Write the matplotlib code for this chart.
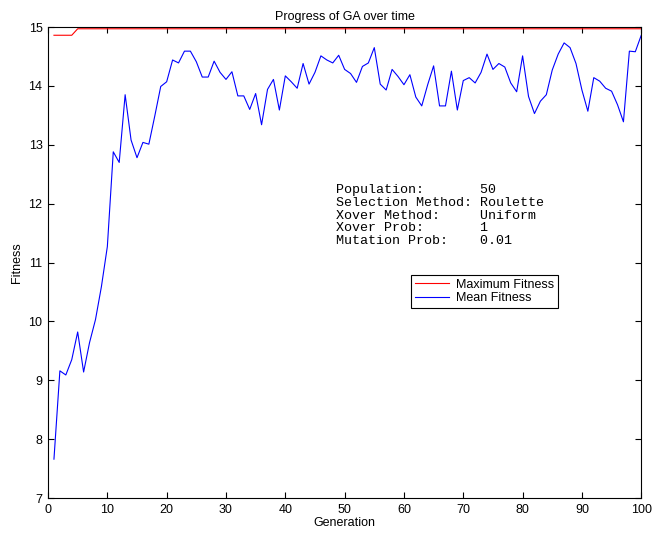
import matplotlib
matplotlib.use("Agg")
import matplotlib.pyplot as plt

plt.rcParams['font.family'] = ['Liberation Sans', 'DejaVu Sans']

# Generation numbers 1..100
generations = list(range(1, 101))

# Best fitness in each generation
max_fitness = [14.86, 14.86, 14.86, 14.86] + [14.97] * 96

# Mean fitness in each generation
mean_fitness = [
    7.66, 9.16, 9.09, 9.35, 9.82, 9.14, 9.64, 10.03, 10.59, 11.27,
    12.88, 12.70, 13.85, 13.08, 12.78, 13.04, 13.01, 13.49, 13.99, 14.07,
    14.44, 14.39, 14.59, 14.59, 14.41, 14.15, 14.15, 14.42, 14.23, 14.11,
    14.24, 13.83, 13.83, 13.60, 13.87, 13.34, 13.94, 14.11, 13.59, 14.17,
    14.07, 13.96, 14.38, 14.03, 14.23, 14.51, 14.44, 14.39, 14.52, 14.28,
    14.21, 14.06, 14.33, 14.39, 14.65, 14.03, 13.93, 14.28, 14.16, 14.02,
    14.19, 13.81, 13.66, 14.02, 14.34, 13.66, 13.66, 14.25, 13.59, 14.09,
    14.14, 14.05, 14.23, 14.54, 14.28, 14.38, 14.32, 14.05, 13.90, 14.51,
    13.82, 13.53, 13.74, 13.85, 14.27, 14.54, 14.73, 14.65, 14.38, 13.93,
    13.57, 14.14, 14.08, 13.96, 13.91, 13.68, 13.39, 14.59, 14.58, 14.86,
]

settings_names = ["Population:", "Selection Method:", "Xover Method:",
                  "Xover Prob:", "Mutation Prob:"]
settings_values = ["50", "Roulette", "Uniform", "1", "0.01"]

fig = plt.figure(figsize=(6.56, 5.37), dpi=100)
ax = fig.add_axes([0.0732, 0.0726, 0.9043, 0.8771])

ax.plot(generations, max_fitness, color='red', linewidth=0.8, label='Maximum Fitness')
ax.plot(generations, mean_fitness, color='blue', linewidth=0.8, label='Mean Fitness')

ax.set_xlim(0, 100)
ax.set_ylim(7, 15)
ax.set_xticks(range(0, 101, 10))
ax.set_yticks(range(7, 16))
ax.tick_params(direction='in', top=True, right=True, labelsize=9, length=4, pad=4)
for s in ax.spines.values():
    s.set_linewidth(0.8)

ax.set_xlabel('Generation', fontsize=9, labelpad=1)
ax.set_ylabel('Fitness', fontsize=9, labelpad=4)
ax.set_title('Progress of GA over time', fontsize=9, pad=5)

# settings box, drawn in a typewriter face like the original
info = "\n".join(f"{n:<18}{v}" for n, v in zip(settings_names, settings_values))
ax.text(48.6, 12.33, info, family=['Liberation Mono', 'DejaVu Sans Mono'],
        fontsize=9.6, va='top', ha='left', linespacing=1.08)

leg = ax.legend(loc='upper left', bbox_to_anchor=(0.612, 0.4735), fontsize=9,
                fancybox=False, edgecolor='black', framealpha=1,
                borderaxespad=0, handlelength=2.7, borderpad=0.3,
                labelspacing=0.1, handletextpad=0.6)
leg.get_frame().set_linewidth(0.8)

fig.savefig('out.png', dpi=100)
